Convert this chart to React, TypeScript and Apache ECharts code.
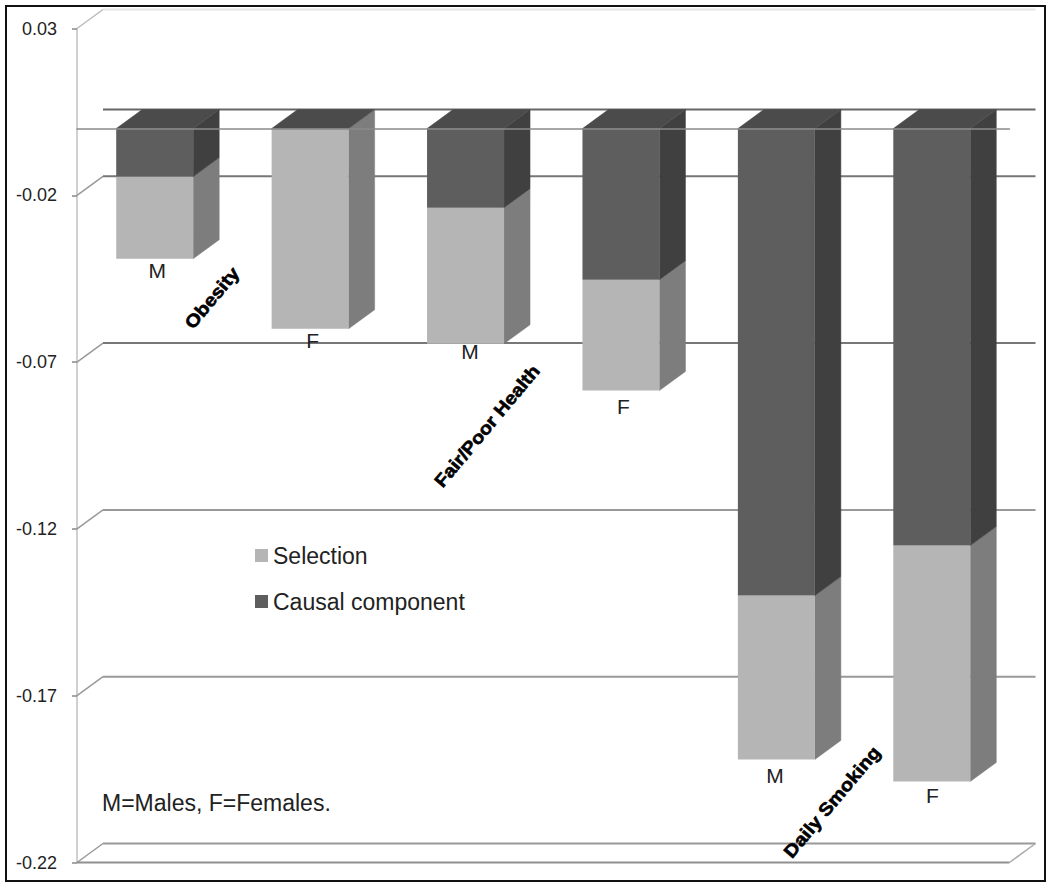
import React, { useEffect, useRef } from "react";
import * as echarts from "echarts";

const barLabels = ["M", "F", "M", "F", "M", "F"];
const causalValues = [-0.0144, 0, -0.0237, -0.0453, -0.14, -0.125];
const selectionValues = [-0.0246, -0.06, -0.0408, -0.0332, -0.0491, -0.0707];
const tickValues = [-0.22, -0.17, -0.12, -0.07, -0.02, 0.03];
const groupNames = ["Obesity", "Fair/Poor Health", "Daily Smoking"];
const legendNames = ["Selection", "Causal component"];
const noteText = "M=Males, F=Females.";

const DX = 26;
const DY = 19;
const BAR_W = 77;
const labelNudgeX = [2.5, 2.5, 4.5, 2.5, -1.5, 0.5];
const labelNudgeY = [12, 12, 8, 16, 16, 14];
const groupPos = [
  { x: 212, y: 298, sx: 1.12 },
  { x: 487, y: 426, sx: 1.1 },
  { x: 832, y: 802, sx: 1.12 },
];

const FONT = '"Liberation Sans", Arial, sans-serif';

function poly(points: number[][], fill: string) {
  return { type: "polygon", silent: true, shape: { points }, style: { fill, stroke: fill, lineWidth: 0.5 } };
}

function makeBarRender(front: string, side: string, top: string | null, withLabel: boolean) {
  return (params: any, api: any) => {
    const idx = api.value(0);
    const start = api.coord([idx, api.value(1)]);
    const end = api.coord([idx, api.value(2)]);
    const l = start[0] - BAR_W / 2;
    const r = start[0] + BAR_W / 2;
    const y0 = start[1];
    const y1 = end[1];
    const children: any[] = [];
    if (y1 > y0) {
      children.push(poly([[r, y0], [r + DX, y0 - DY], [r + DX, y1 - DY], [r, y1]], side));
      children.push({ type: "rect", silent: true, shape: { x: l, y: y0, width: BAR_W, height: y1 - y0 }, style: { fill: front } });
    }
    if (top) {
      children.push(poly([[l, y0], [r, y0], [r + DX, y0 - DY], [l + DX, y0 - DY]], top));
    }
    if (withLabel) {
      const i = params.dataIndex;
      children.push({
        type: "text",
        silent: true,
        x: start[0] + labelNudgeX[i],
        y: y1 + labelNudgeY[i],
        style: { text: barLabels[i], font: `21px ${FONT}`, fill: "#222", align: "center", verticalAlign: "middle" },
      });
    }
    return { type: "group", children };
  };
}

export default function App() {
  const ref = useRef<HTMLDivElement>(null);
  useEffect(() => {
    const chart = echarts.init(ref.current!, undefined, { renderer: "svg" });
    const causalData = barLabels.map((_, i) => [i, 0, causalValues[i]]);
    const selectionData = barLabels.map((_, i) => [i, causalValues[i], causalValues[i] + selectionValues[i]]);
    chart.setOption({
      animation: false,
      backgroundColor: "#fff",
      grid: { left: 77, top: 28.5, width: 932.5, height: 834 },
      xAxis: {
        type: "category",
        data: barLabels.map((_, i) => i),
        z: 10,
        axisLine: { onZero: true, lineStyle: { color: "#8a8a8a", width: 1.5 } },
        axisTick: { show: false },
        axisLabel: { show: false },
        splitLine: { show: false },
      },
      yAxis: {
        type: "value",
        min: -0.22,
        max: 0.03,
        axisLine: { show: true, lineStyle: { color: "#c0c0c0", width: 1.5 } },
        axisTick: { show: true, length: 5, customValues: tickValues, lineStyle: { color: "#888", width: 1.5 } },
        axisLabel: {
          customValues: tickValues,
          margin: 20,
          formatter: (v: number) => v.toFixed(2),
          fontFamily: FONT,
          fontSize: 18,
          color: "#222",
        },
        splitLine: { show: false },
      },
      legend: {
        data: legendNames,
        orient: "vertical",
        left: 250,
        top: 539,
        itemWidth: 13,
        itemHeight: 13,
        itemGap: 23,
        icon: "rect",
        textStyle: { fontFamily: FONT, fontSize: 23, color: "#222" },
      },
      graphic: [
        { type: "rect", z: -1, silent: true, shape: { x: 6, y: 6, width: 1039, height: 875 }, style: { fill: "none", stroke: "#111", lineWidth: 2 } },
        { type: "text", silent: true, x: 102, y: 803, style: { text: noteText, font: `23px ${FONT}`, fill: "#222", verticalAlign: "middle" } },
        ...groupNames.map((name, i) => ({
          type: "text",
          silent: true,
          z: 20,
          x: groupPos[i].x,
          y: groupPos[i].y,
          rotation: (50 * Math.PI) / 180,
          scaleX: groupPos[i].sx,
          style: { text: name, font: `bold 18px ${FONT}`, fill: "#000", stroke: "#000", lineWidth: 0.6, align: "center", verticalAlign: "middle" },
        })),
      ],
      series: [
        {
          type: "custom",
          name: "walls",
          z: 1,
          silent: true,
          encode: { x: 0, y: 1 },
          data: tickValues.map((v) => [0, v]),
          renderItem: (params: any, api: any) => {
            const cs = params.coordSys;
            const v = api.value(1);
            const y = api.coord([0, v])[1];
            const l = cs.x;
            const r = cs.x + cs.width;
            const isTop = v === tickValues[tickValues.length - 1];
            const isFloor = v === tickValues[0];
            const upper = v > -0.1;
            const color = isTop ? "#e6e6e6" : upper ? "#777" : "#999";
            const children: any[] = [
              { type: "line", silent: true, shape: { x1: l, y1: y, x2: l + DX, y2: y - DY }, style: { stroke: isTop ? "#bbb" : "#999", lineWidth: 1.5 } },
              { type: "line", silent: true, shape: { x1: l + DX, y1: y - DY, x2: r + DX, y2: y - DY }, style: { stroke: color, lineWidth: 2 } },
            ];
            if (isFloor) {
              children.push({ type: "line", silent: true, shape: { x1: l, y1: y, x2: r, y2: y }, style: { stroke: "#909090", lineWidth: 2 } });
              children.push({ type: "line", silent: true, shape: { x1: r, y1: y, x2: r + DX, y2: y - DY }, style: { stroke: "#aaa", lineWidth: 1.5 } });
            }
            if (v === tickValues[4]) {
              const yz = api.coord([0, 0])[1] - DY;
              children.push({ type: "line", silent: true, shape: { x1: l + DX, y1: yz, x2: r + DX, y2: yz }, style: { stroke: "#666", lineWidth: 2 } });
            }
            return { type: "group", children };
          },
        },
        {
          type: "custom",
          name: legendNames[1],
          z: 3,
          silent: true,
          itemStyle: { color: "#5e5e5e" },
          encode: { x: 0, y: [1, 2] },
          data: causalData,
          renderItem: makeBarRender("#5e5e5e", "#404040", "#4b4b4b", false),
        },
        {
          type: "custom",
          name: legendNames[0],
          z: 2,
          silent: true,
          itemStyle: { color: "#b5b5b5" },
          encode: { x: 0, y: [1, 2] },
          data: selectionData,
          renderItem: makeBarRender("#b5b5b5", "#7d7d7d", null, true),
        },
      ],
    });
    return () => chart.dispose();
  }, []);
  return <div ref={ref} style={{ position: "absolute", left: 0, top: 0, width: 1050, height: 888 }} />;
}
